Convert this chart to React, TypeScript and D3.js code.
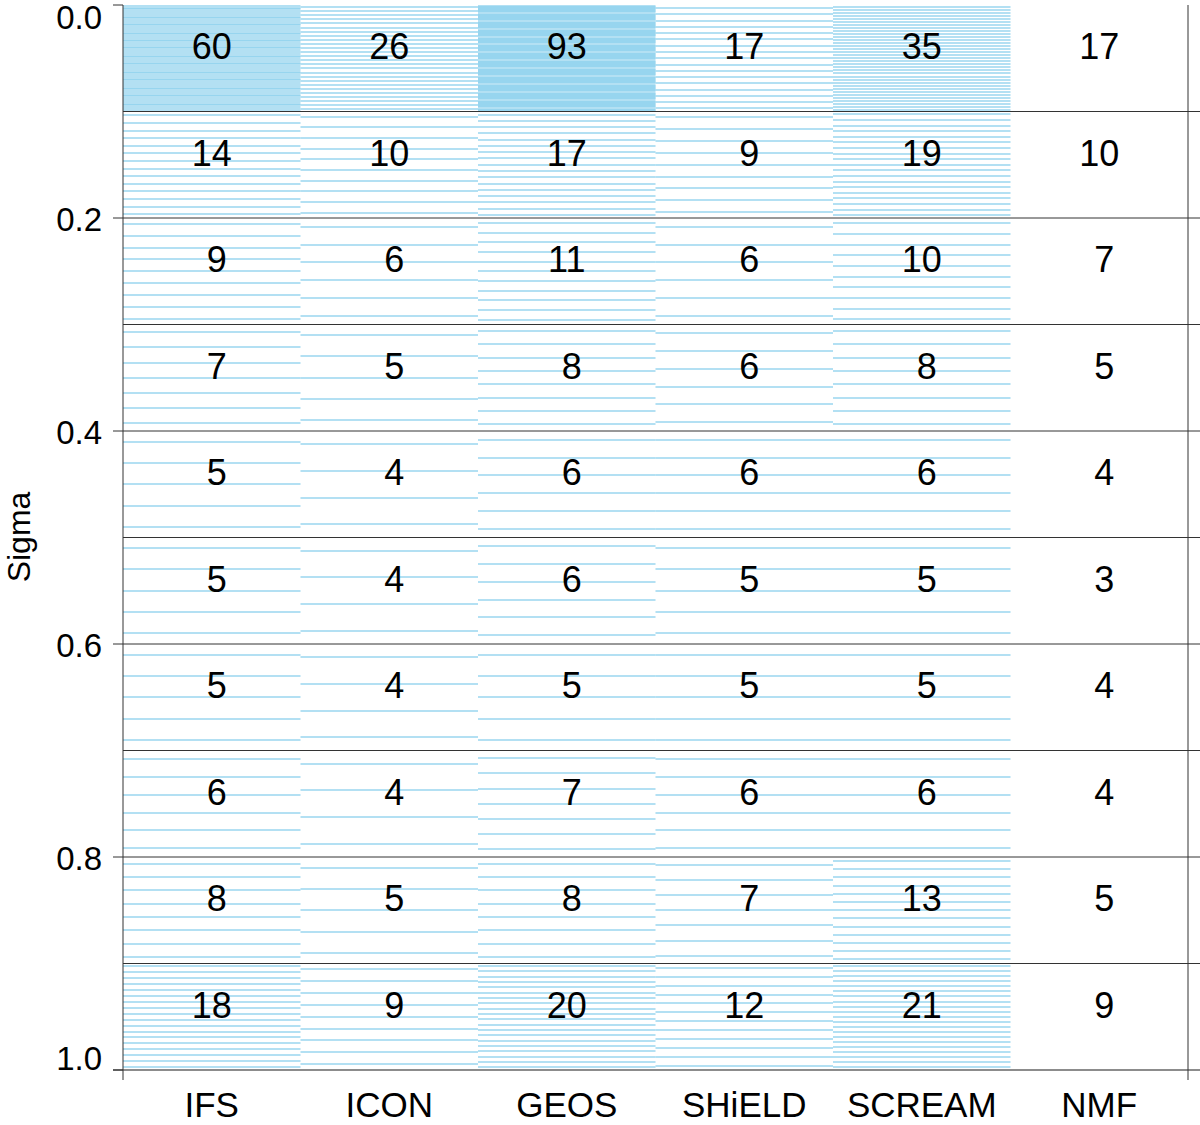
import React from 'react';
import * as d3 from 'd3';

// vertical levels per 0.1 sigma band, top (0.0) to surface (1.0)
const models = ['IFS', 'ICON', 'GEOS', 'SHiELD', 'SCREAM', 'NMF'];
const ifsLevels = [60, 14, 9, 7, 5, 5, 5, 6, 8, 18];
const iconLevels = [26, 10, 6, 5, 4, 4, 4, 4, 5, 9];
const geosLevels = [93, 17, 11, 8, 6, 6, 5, 7, 8, 20];
const shieldLevels = [17, 9, 6, 6, 6, 5, 5, 6, 7, 12];
const screamLevels = [35, 19, 10, 8, 6, 5, 5, 6, 13, 21];
const nmfLevels = [17, 10, 7, 5, 4, 3, 4, 4, 5, 9];
const levelCounts = [ifsLevels, iconLevels, geosLevels, shieldLevels, screamLevels, nmfLevels];
const drawLevels = [true, true, true, true, true, false];
const bandEdges = [0, 0.1, 0.2, 0.3, 0.4, 0.5, 0.6, 0.7, 0.8, 0.9, 1.0];
const yTicks = [0, 0.2, 0.4, 0.6, 0.8, 1.0];

const W = 1200;
const H = 1125;
const FONT = '"Liberation Sans", Arial, Helvetica, sans-serif';

export default function App() {
  const x = d3.scaleBand<string>().domain(models).range([123, 1188]);
  const y = d3.scaleLinear().domain([0, 1]).range([5, 1070]);
  const fmt = d3.format(' >2d');
  const tickFmt = d3.format('.1f');

  const levelLines: React.ReactNode[] = [];
  models.forEach((m, mi) => {
    if (!drawLevels[mi]) return;
    const x0 = x(m)!;
    const x1 = x0 + x.bandwidth();
    levelCounts[mi].forEach((n, bi) => {
      const lo = y(bandEdges[bi]);
      const hi = y(bandEdges[bi + 1]);
      const step = (hi - lo) / n;
      for (let i = 0; i < n; i++) {
        const ly = Math.round(lo + (i + 0.5) * step);
        levelLines.push(
          <line key={`${m}-${bi}-${i}`} x1={x0} x2={x1} y1={ly} y2={ly}
            stroke="#87ceeb" strokeWidth={1.6} strokeOpacity={0.85} />
        );
      }
    });
  });

  return (
    <svg width={W} height={H} style={{ position: 'absolute', left: 0, top: 0, display: 'block' }}
      fontFamily={FONT}>
      <rect width={W} height={H} fill="#fff" />
      <g>{levelLines}</g>

      {/* band separators */}
      {bandEdges.slice(1, -1).map((s) => (
        <line key={`sep-${s}`} x1={123} x2={W} y1={y(s)} y2={y(s)} stroke="#333" strokeWidth={1} />
      ))}
      <line x1={113} x2={W} y1={y(1)} y2={y(1)} stroke="#666" strokeWidth={1.6} />

      {/* axes */}
      <line x1={123} x2={123} y1={y(0)} y2={1080} stroke="#333" strokeWidth={1} />
      <line x1={1188} x2={1188} y1={y(0)} y2={1080} stroke="#333" strokeWidth={1} />
      {yTicks.map((t) => (
        <line key={`tk-${t}`} x1={113} x2={123} y1={y(t)} y2={y(t)} stroke="#333" strokeWidth={1} />
      ))}
      {yTicks.map((t, i) => (
        <text key={`tl-${t}`} x={102} y={y(t)} textAnchor="end" fontSize={33}
          dominantBaseline={i === 0 ? 'hanging' : i === yTicks.length - 1 ? 'auto' : 'central'}
          dy={i === 0 ? 0 : i === yTicks.length - 1 ? 0 : 1}>
          {tickFmt(t)}
        </text>
      ))}
      <text transform={`translate(30,537) rotate(-90)`} textAnchor="middle" fontSize={32}>Sigma</text>

      {/* counts */}
      {models.map((m, mi) =>
        levelCounts[mi].map((n, bi) => (
          <text key={`n-${m}-${bi}`} x={x(m)! + x.bandwidth() / 2}
            y={(y(bandEdges[bi]) + y(bandEdges[bi + 1])) / 2 + 1}
            textAnchor="middle" fontSize={36} style={{ whiteSpace: 'pre' }}>
            {fmt(n)}
          </text>
        ))
      )}

      {/* model names */}
      {models.map((m) => (
        <text key={`lab-${m}`} x={x(m)! + x.bandwidth() / 2} y={1117} textAnchor="middle" fontSize={35}>
          {m}
        </text>
      ))}
    </svg>
  );
}
